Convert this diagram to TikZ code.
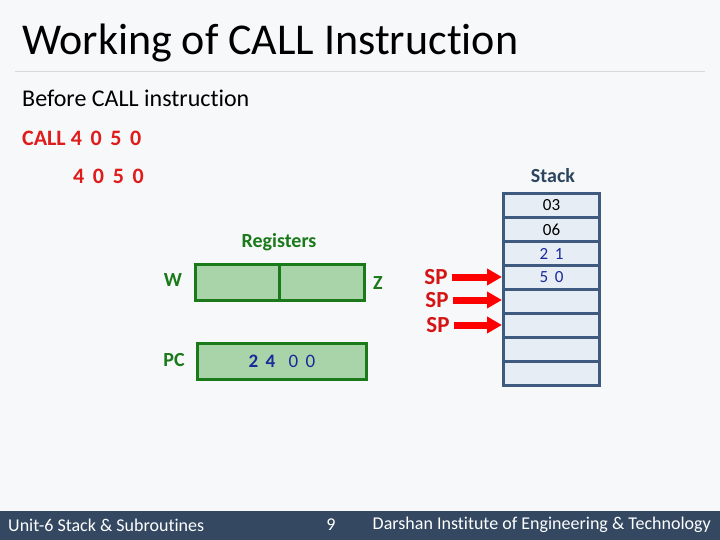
\documentclass[tikz,border=0pt]{standalone}
\usepackage{fontspec}
\setmainfont{Carlito}[Ligatures=NoCommon]
\usetikzlibrary{arrows.meta}
\definecolor{bg}{HTML}{F6F8F9}
\definecolor{footer}{HTML}{344861}
\definecolor{regfill}{HTML}{A9D3A9}
\definecolor{regline}{HTML}{1A7A1A}
\definecolor{stkfill}{HTML}{E6EDF5}
\definecolor{stkline}{HTML}{3E5A7E}
\definecolor{callred}{HTML}{E01B1B}
\definecolor{spred}{HTML}{D41515}
\definecolor{numblue}{HTML}{1A2A9A}
\definecolor{stacktxt}{HTML}{2E4560}
\begin{document}
\begin{tikzpicture}[x=1pt,y=-1pt,
  lbl/.style={inner sep=0pt},
  regbox/.style={draw=regline,fill=regfill,line width=3pt},
  stkcell/.style={draw=stkline,fill=stkfill,line width=3pt,minimum width=96pt,minimum height=24pt,inner sep=0pt,anchor=north west,font=\fontsize{17}{20}\selectfont},
  sparrow/.style={red,line width=7pt,-{Triangle[length=15pt,width=16pt]}},
  splbl/.style={inner sep=0pt,text=spred,font=\fontsize{23}{26}\selectfont\bfseries},
  greenlbl/.style={inner sep=0pt,text=regline,font=\fontsize{20}{24}\selectfont\bfseries}]
\fill[bg] (0,0) rectangle (720,540);
\useasboundingbox (0,0) rectangle (720,540);
% title
\node[lbl,anchor=base west,font=\fontsize{44}{50}\selectfont] (title) at (22,55) {Working of CALL Instruction};
\draw[black!15,line width=1pt] (15,72) -- (705,72);
\node[lbl,anchor=base west,font=\fontsize{24}{28}\selectfont] (before) at (22,107) {Before CALL instruction};
\node[lbl,anchor=base west,text=callred,font=\fontsize{22}{26}\selectfont\bfseries] (call) at (22,146) {CALL 4\,\ 0\,\ 5\,\ 0};
\node[lbl,anchor=base west,text=callred,font=\fontsize{22}{26}\selectfont\bfseries] (addr) at (73,184) {4\,\ 0\,\ 5\,\ 0};
% stack
\node[lbl,text=stacktxt,font=\fontsize{20}{24}\selectfont\bfseries] (stacklbl) at (553,176) {Stack};
\node[stkcell] (s1) at (502,192) {03};
\node[stkcell] (s2) at (502,216) {06};
\node[stkcell,text=numblue] (s3) at (502,240) {2\,\ 1};
\node[stkcell,text=numblue] (s4) at (502,264) {5\,\ 0};
\node[stkcell] (s5) at (502,288) {};
\node[stkcell] (s6) at (502,312) {};
\node[stkcell] (s7) at (502,336) {};
\node[stkcell] (s8) at (502,360) {};
% registers
\node[greenlbl] (reglbl) at (279,242) {Registers};
\node[regbox,minimum width=84pt,minimum height=36pt,inner sep=0pt,anchor=north west] (w) at (194,263) {};
\node[regbox,minimum width=85pt,minimum height=36pt,inner sep=0pt,anchor=north west] (z) at (278,263) {};
\node[greenlbl] (wlbl) at (173,280) {W};
\node[greenlbl] (zlbl) at (378,283) {Z};
\node[regbox,minimum width=169pt,minimum height=36pt,inner sep=0pt,anchor=north west,text=numblue,font=\fontsize{19}{22}\selectfont] (pc) at (196,342) {\textbf{2\,\ 4}\hspace{0.7em}0\,\ 0};
\node[greenlbl] (pclbl) at (174,360) {PC};
% SP pointers
\node[splbl] (sp1) at (436,277) {SP};
\node[splbl] (sp2) at (437,300) {SP};
\node[splbl] (sp3) at (438,325) {SP};
\coordinate (t1) at (s4.west |- sp1);
\coordinate (t2) at (s5.west |- sp2);
\coordinate (t3) at (s6.west |- sp3);
\draw[sparrow] (sp1.east) ++(4,0) coordinate (a1) -- (t1);
\draw[sparrow] (sp2.east) ++(4,0) coordinate (a2) -- (t2);
\draw[sparrow] (sp3.east) ++(4,0) coordinate (a3) -- (t3);
% footer
\fill[footer] (0,511) rectangle (720,540);
\node[lbl,anchor=west,text=white,font=\fontsize{18}{21}\selectfont] (unit) at (8,525) {Unit-6 Stack \& Subroutines};
\node[lbl,text=white,font=\fontsize{18}{21}\selectfont] (pg) at (331,525) {9};
\node[lbl,anchor=east,text=white,font=\fontsize{18}{21}\selectfont] (inst) at (711,525) {Darshan Institute of Engineering \& Technology};
\end{tikzpicture}
\end{document}
